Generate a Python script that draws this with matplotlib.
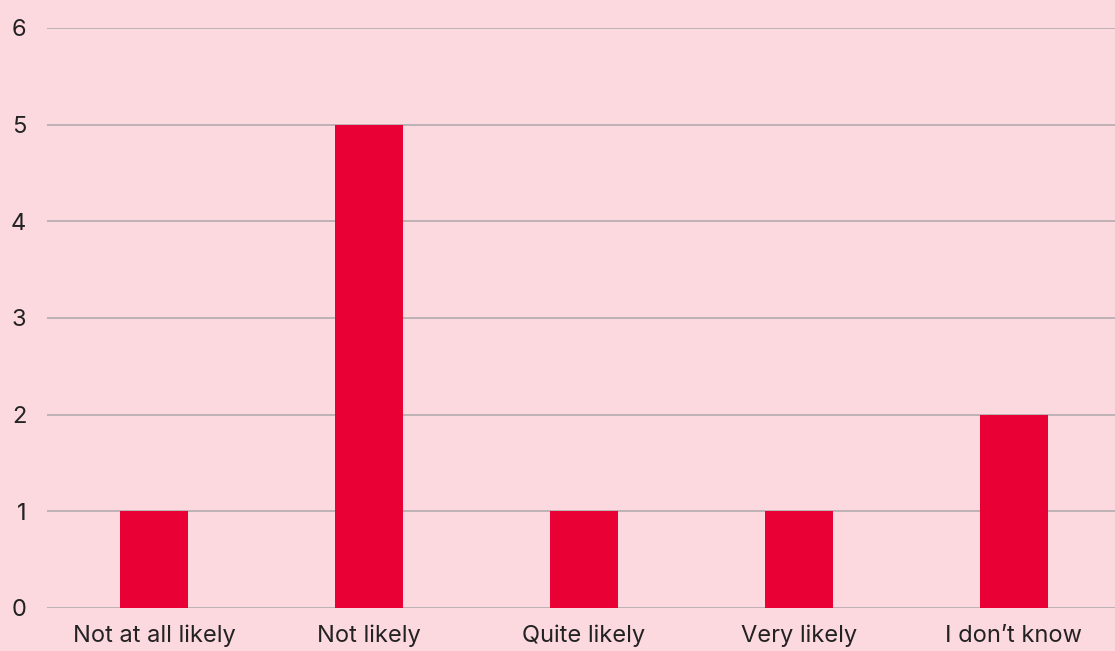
import matplotlib
matplotlib.use("Agg")
import matplotlib.pyplot as plt

categories = ["Not at all likely", "Not likely", "Quite likely", "Very likely", "I don\u2019t know"]
values = [1, 5, 1, 1, 2]
yticks = [0, 1, 2, 3, 4, 5, 6]

bg = "#FCD8DF"
bar_color = "#E90034"
grid_color = "#B9AEB2"
text_color = "#222222"

plt.rcParams['font.family'] = ['Inter', 'DejaVu Sans']

fig = plt.figure(figsize=(11.15, 6.51), dpi=100, facecolor=bg)
ax = fig.add_axes([47/1115, 43/651, 1074/1115, 580/651])
ax.set_facecolor(bg)

x = list(range(len(categories)))
ax.bar(x, values, width=0.317, color=bar_color, zorder=3)

ax.set_xlim(-0.5, len(categories) - 0.5)
ax.set_ylim(0, 6)
ax.set_yticks(yticks)
ax.set_yticklabels([str(t) for t in yticks])
ax.set_xticks(x)
ax.set_xticklabels(categories)

ax.yaxis.grid(True, color=grid_color, linewidth=1.3, zorder=1)
ax.xaxis.grid(False)
for s in ax.spines.values():
    s.set_visible(False)

ax.tick_params(axis='y', length=0, pad=15, labelsize=17, labelcolor=text_color)
ax.tick_params(axis='x', length=0, pad=12, labelsize=17, labelcolor=text_color)

fig.savefig("out.png", dpi=100, facecolor=bg)
